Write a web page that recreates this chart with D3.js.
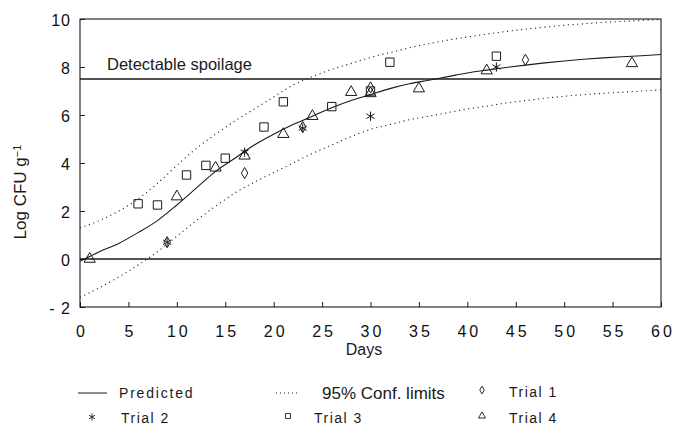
<!DOCTYPE html>
<html lang="en">
<head>
  <meta charset="UTF-8">
  <title>Predicted growth and trials</title>
  <style>
    body { margin: 0; background: #fff; }
    svg { display: block; font-family: "Liberation Sans", Arial, sans-serif; }
    .tick text { fill: #111; }
  </style>
</head>
<body>
  <div id="chart"></div>
  <script src="https://d3js.org/d3.v7.min.js"></script>
  <script>
    // curve grid (days) and the predicted / 95% limit curves
    const curveDays = [0, 2, 4, 6, 8, 10, 12, 14, 16, 18, 20, 22, 24, 26, 28, 30,
      32, 34, 36, 38, 40, 42, 44, 46, 48, 50, 52, 54, 56, 58, 60];
    const predicted = [-0.1, 0.3, 0.65, 1.1, 1.6, 2.25, 2.95, 3.65, 4.2, 4.75, 5.2, 5.6,
      5.95, 6.3, 6.6, 6.85, 7.1, 7.3, 7.45, 7.6, 7.75, 7.87, 7.98, 8.08, 8.17, 8.25,
      8.32, 8.38, 8.43, 8.47, 8.52];
    const upperLimit = [1.3, 1.6, 2.0, 2.5, 3.15, 3.9, 4.6, 5.2, 5.75, 6.25, 6.75, 7.25,
      7.6, 7.9, 8.15, 8.4, 8.6, 8.8, 8.97, 9.12, 9.25, 9.37, 9.48, 9.58, 9.66, 9.74,
      9.8, 9.86, 9.9, 9.94, 9.98];
    const lowerLimit = [-1.6, -1.2, -0.75, -0.25, 0.3, 0.95, 1.6, 2.2, 2.75, 3.2, 3.6, 4.0,
      4.4, 4.75, 5.1, 5.4, 5.6, 5.8, 5.95, 6.1, 6.25, 6.37, 6.5, 6.6, 6.7, 6.78,
      6.85, 6.9, 6.95, 7.0, 7.05];

    // observed trials
    const trial1Days = [9, 17, 23, 30, 46];
    const trial1Log = [0.7, 3.58, 5.5, 7.15, 8.3];
    const trial2Days = [9, 17, 23, 30, 43];
    const trial2Log = [0.7, 4.45, 5.45, 5.95, 8.0];
    const trial3Days = [6, 8, 11, 13, 15, 19, 21, 26, 30, 32, 43];
    const trial3Log = [2.3, 2.25, 3.5, 3.9, 4.2, 5.5, 6.55, 6.35, 7.0, 8.2, 8.45];
    const trial4Days = [1, 10, 14, 17, 21, 24, 28, 30, 35, 42, 57];
    const trial4Log = [0, 2.6, 3.8, 4.3, 5.2, 5.95, 6.95, 6.9, 7.1, 7.85, 8.15];

    const spoilageLevel = 7.5;
    const xTicks = [0, 5, 10, 15, 20, 25, 30, 35, 40, 45, 50, 55, 60];
    const yTicks = [-2, 0, 2, 4, 6, 8, 10];

    const W = 684, H = 425;
    const plotL = 80, plotR = 661, plotT = 19, plotB = 307;
    const ink = "#1a1a1a";

    const x = d3.scaleLinear().domain([0, 60]).range([plotL, plotR]);
    const y = d3.scaleLinear().domain([-2, 10]).range([plotB, plotT]);

    const svg = d3.select("#chart").append("svg")
      .attr("width", W).attr("height", H);

    // frame
    svg.append("rect")
      .attr("x", plotL).attr("y", plotT)
      .attr("width", plotR - plotL).attr("height", plotB - plotT)
      .attr("fill", "none").attr("stroke", ink).attr("stroke-width", 1.1);

    // axes with inward ticks
    const xAxis = svg.append("g")
      .attr("transform", "translate(0," + plotB + ")")
      .call(d3.axisBottom(x).tickValues(xTicks).tickSize(-5).tickPadding(0)
        .tickFormat(d3.format("d")));
    xAxis.select(".domain").remove();
    xAxis.selectAll(".tick line").attr("stroke", ink);
    xAxis.selectAll(".tick text")
      .attr("y", 30).attr("dy", 0)
      .style("font-size", "16px").style("letter-spacing", "3px")
      .attr("dx", "1.5px");

    const yAxis = svg.append("g")
      .attr("transform", "translate(" + plotL + ",0)")
      .call(d3.axisLeft(y).tickValues(yTicks).tickSize(-5).tickPadding(0)
        .tickFormat(d => d < 0 ? "- " + Math.abs(d) : d));
    yAxis.select(".domain").remove();
    yAxis.selectAll(".tick line").attr("stroke", ink);
    yAxis.selectAll(".tick text")
      .attr("x", -9).attr("dy", "0.38em")
      .style("font-size", "16px").style("letter-spacing", "1px");

    // reference lines
    [0, spoilageLevel].forEach(v => {
      svg.append("line")
        .attr("x1", x(0)).attr("x2", x(60))
        .attr("y1", y(v)).attr("y2", y(v))
        .attr("stroke", ink).attr("stroke-width", 1.3);
    });

    svg.append("text")
      .attr("x", 107).attr("y", y(spoilageLevel) - 9)
      .style("font-size", "16.5px").attr("fill", ink)
      .text("Detectable spoilage");

    // curves
    const line = d3.line()
      .x((d, i) => x(curveDays[i]))
      .y(d => y(d))
      .curve(d3.curveMonotoneX);

    svg.append("path").datum(predicted)
      .attr("d", line).attr("fill", "none")
      .attr("stroke", ink).attr("stroke-width", 1.1);

    [upperLimit, lowerLimit].forEach(arr => {
      svg.append("path").datum(arr)
        .attr("d", line).attr("fill", "none")
        .attr("stroke", ink).attr("stroke-width", 1.1)
        .attr("stroke-dasharray", "1.1,3.6");
    });

    // trial markers
    const trials = [
      { days: trial1Days, vals: trial1Log, type: d3.symbolDiamond, size: 36 },
      { days: trial2Days, vals: trial2Log, type: d3.symbolAsterisk, size: 60 },
      { days: trial3Days, vals: trial3Log, type: d3.symbolSquare, size: 70 },
      { days: trial4Days, vals: trial4Log, type: d3.symbolTriangle, size: 55 }
    ];

    trials.forEach(t => {
      svg.append("g").selectAll("path")
        .data(t.vals)
        .enter()
        .append("path")
        .attr("transform", (d, i) => "translate(" + x(t.days[i]) + "," + y(d) + ")")
        .attr("d", d3.symbol().type(t.type).size(t.size))
        .attr("fill", "none").attr("stroke", ink).attr("stroke-width", 1);
    });

    // axis titles
    svg.append("text")
      .attr("x", 364).attr("y", 355)
      .attr("text-anchor", "middle")
      .style("font-size", "16px").attr("fill", ink)
      .text("Days");

    const yTitle = svg.append("text")
      .attr("transform", "translate(26,192) rotate(-90)")
      .attr("text-anchor", "middle")
      .style("font-size", "17px").attr("fill", ink);
    yTitle.append("tspan").text("Log CFU g");
    yTitle.append("tspan").attr("dy", "-0.5em").style("font-size", "11px").text("\u22121");

    // legend
    const legend = svg.append("g");
    const legendLabel = (lx, ly, txt, size, spacing) => {
      legend.append("text")
        .attr("x", lx).attr("y", ly).attr("dy", "0.35em")
        .style("font-size", size).style("letter-spacing", spacing)
        .attr("fill", ink).text(txt);
    };

    legend.append("line")
      .attr("x1", 78).attr("x2", 107).attr("y1", 393).attr("y2", 393)
      .attr("stroke", ink).attr("stroke-width", 1);
    legendLabel(119, 393, "Predicted", "14px", "1.8px");

    legend.append("line")
      .attr("x1", 276).attr("x2", 298).attr("y1", 393).attr("y2", 393)
      .attr("stroke", ink).attr("stroke-width", 1).attr("stroke-dasharray", "1,3");
    legendLabel(322, 393, "95% Conf. limits", "17px", "0px");

    const legendSymbols = [
      { lx: 482, ly: 390, type: d3.symbolDiamond, size: 18, label: "Trial 1", tx: 509, ty: 392 },
      { lx: 92, ly: 417, type: d3.symbolAsterisk, size: 34, label: "Trial 2", tx: 121, ty: 418 },
      { lx: 288, ly: 416, type: d3.symbolSquare, size: 26, label: "Trial 3", tx: 314, ty: 418 },
      { lx: 482, ly: 416, type: d3.symbolTriangle, size: 22, label: "Trial 4", tx: 509, ty: 418 }
    ];
    legendSymbols.forEach(s => {
      legend.append("path")
        .attr("transform", "translate(" + s.lx + "," + s.ly + ")")
        .attr("d", d3.symbol().type(s.type).size(s.size))
        .attr("fill", "none").attr("stroke", ink).attr("stroke-width", 0.9);
      legendLabel(s.tx, s.ty, s.label, "14px", "1.5px");
    });
  </script>
</body>
</html>
